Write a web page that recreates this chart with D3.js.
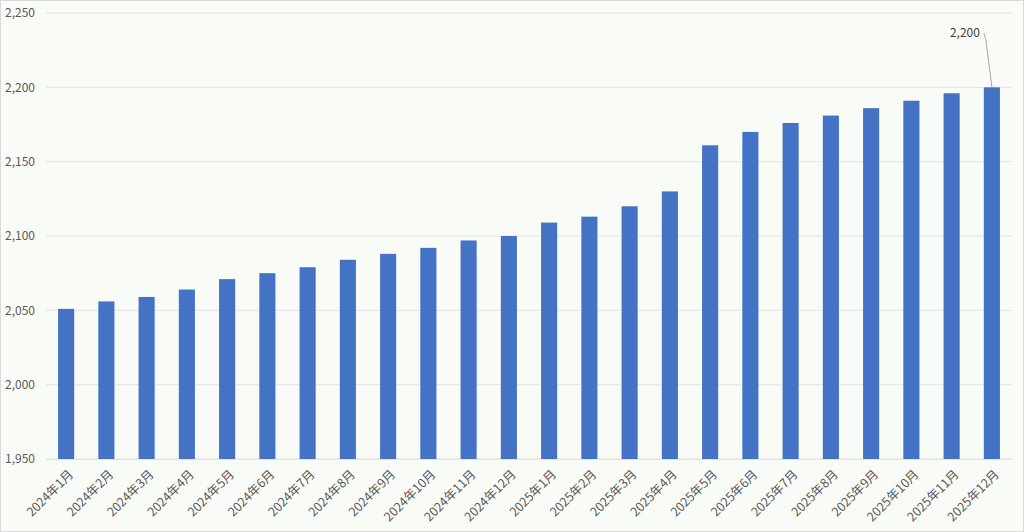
<!DOCTYPE html>
<html><head><meta charset="utf-8">
<script src="https://cdn.jsdelivr.net/npm/d3@7"></script>
<style>body{margin:0;background:#fff;}svg{display:block;}</style>
</head><body>
<svg id="c" width="1024" height="532"></svg>
<script>
const categories = ["2024年1月","2024年2月","2024年3月","2024年4月","2024年5月","2024年6月","2024年7月","2024年8月","2024年9月","2024年10月","2024年11月","2024年12月","2025年1月","2025年2月","2025年3月","2025年4月","2025年5月","2025年6月","2025年7月","2025年8月","2025年9月","2025年10月","2025年11月","2025年12月"];
const values = [2051,2056,2059,2064,2071,2075,2079,2084,2088,2092,2097,2100,2109,2113,2120,2130,2161,2170,2176,2181,2186,2191,2196,2200];
const yTicks = [1950,2000,2050,2100,2150,2200,2250];
const annotationIndex = 23;

const svg = d3.select("#c");
const W = 1024, H = 532;
const m = {left:46, right:12, top:13, bottom:73};
svg.append("rect").attr("x",0.5).attr("y",0.5).attr("width",W-1).attr("height",H-1)
  .attr("fill","#f9fbf7").attr("stroke","#d9d9d9");

const x = d3.scaleBand().domain(categories).range([m.left, W-m.right]).paddingInner(0.6).paddingOuter(0.3);
const y = d3.scaleLinear().domain([1950,2250]).range([H-m.bottom, m.top]);

const font = "'Noto Sans CJK JP','Noto Sans',sans-serif";
// grid
svg.append("g").selectAll("line").data(yTicks).join("line")
  .attr("x1",m.left).attr("x2",W-m.right)
  .attr("y1",d=>y(d)).attr("y2",d=>y(d))
  .attr("stroke","#e3e3e3").attr("stroke-width",1);

// y axis
const yAxis = d3.axisLeft(y).tickValues(yTicks).tickFormat(d3.format(",")).tickSize(0).tickPadding(11);
const ya = svg.append("g").attr("transform",`translate(${m.left},0)`).call(yAxis);
ya.select(".domain").remove();
ya.selectAll("text").attr("fill","#595959").style("font-family",font).style("font-size","12px");

// bars
svg.append("g").selectAll("rect").data(values).join("rect")
  .attr("x",(d,i)=>x(categories[i])).attr("width",x.bandwidth())
  .attr("y",d=>y(d)).attr("height",d=>y(1950)-y(d))
  .attr("fill","#4472c4");

// x axis
const xAxis = d3.axisBottom(x).tickSize(0).tickPadding(0);
const xa = svg.append("g").attr("transform",`translate(0,${H-m.bottom})`).call(xAxis);
xa.select(".domain").attr("stroke","#e3e3e3");
xa.selectAll("text").attr("fill","#595959").style("font-family",font).style("font-size","12.5px")
  .attr("text-anchor","end").attr("dy","0.35em")
  .attr("transform","translate(5,13) rotate(-45)");

// annotation
const ax = x(categories[annotationIndex]) + x.bandwidth()/2;
const ay = y(values[annotationIndex]);
svg.append("path")
  .attr("d",`M${ax},${ay} L${ax-6},${y(2232)} L${ax-8},${y(2236.5)}`)
  .attr("fill","none").attr("stroke","#a6a6a6").attr("stroke-width",1);
svg.append("text").attr("x",ax-12).attr("y",y(2236.5)).attr("dy","0.35em")
  .attr("text-anchor","end").attr("fill","#404040")
  .style("font-family",font).style("font-size","12px")
  .text(d3.format(",")(values[annotationIndex]));
</script>
</body></html>
